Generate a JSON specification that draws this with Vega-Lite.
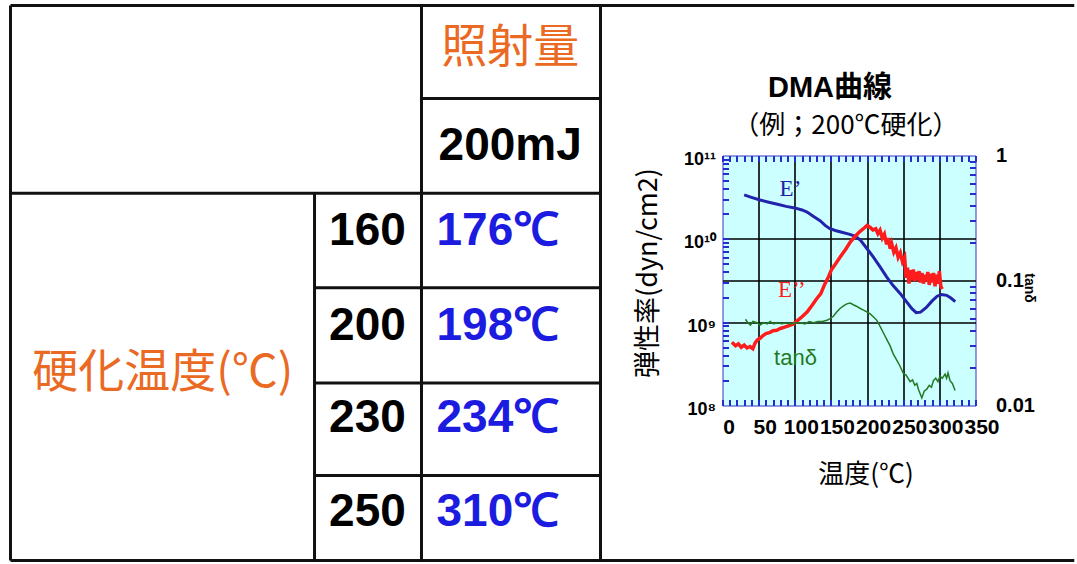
{
  "$schema": "https://vega.github.io/schema/vega-lite/v6.json",
  "background": "white",
  "padding": {"left": 8.5, "top": 3.5, "right": 0, "bottom": 0},
  "bounds": "flush",
  "spacing": 122,
  "config": {"view": {"stroke": null}, "font": "Liberation Sans"},
  "datasets": {
    "tableLines": [
      {"x1": 0, "x2": 180.3, "y1": 0, "y2": 0},
      {"x1": 0, "x2": 180.3, "y1": 6, "y2": 6},
      {"x1": 0, "x2": 0, "y1": 0, "y2": 6},
      {"x1": 100, "x2": 100, "y1": 0, "y2": 6},
      {"x1": 69.66, "x2": 69.66, "y1": 0, "y2": 6},
      {"x1": 51.53, "x2": 51.53, "y1": 2.03, "y2": 6},
      {"x1": 69.66, "x2": 100, "y1": 1.005, "y2": 1.005},
      {"x1": 0, "x2": 100, "y1": 2.03, "y2": 2.03},
      {"x1": 51.53, "x2": 100, "y1": 3.05, "y2": 3.05},
      {"x1": 51.53, "x2": 100, "y1": 4.08, "y2": 4.08},
      {"x1": 51.53, "x2": 100, "y1": 5.08, "y2": 5.08}
    ],
    "headers": [
      {"t": "照射量", "col": 84.7, "row": 0.46},
      {"t": "硬化温度(℃)", "col": 25.8, "row": 3.97}
    ],
    "settings": [
      {"t": "200mJ", "col": 84.7, "row": 1.52},
      {"t": "160", "col": 60.5, "row": 2.44},
      {"t": "200", "col": 60.5, "row": 3.46},
      {"t": "230", "col": 60.5, "row": 4.46},
      {"t": "250", "col": 60.5, "row": 5.48}
    ],
    "results": [
      {"t": "176℃", "col": 72.2, "row": 2.44},
      {"t": "198℃", "col": 72.2, "row": 3.46},
      {"t": "234℃", "col": 72.2, "row": 4.46},
      {"t": "310℃", "col": 72.2, "row": 5.48}
    ],
    "ePrime": [
      {"T": 30, "v": 3.37e10}, {"T": 40, "v": 3.15e10}, {"T": 52, "v": 2.92e10},
      {"T": 64, "v": 2.75e10}, {"T": 76, "v": 2.6e10}, {"T": 88, "v": 2.45e10},
      {"T": 100, "v": 2.35e10}, {"T": 110, "v": 2.22e10}, {"T": 117, "v": 2.1e10},
      {"T": 126, "v": 1.85e10}, {"T": 135, "v": 1.65e10}, {"T": 142, "v": 1.45e10},
      {"T": 148, "v": 1.33e10}, {"T": 156, "v": 1.26e10}, {"T": 165, "v": 1.2e10},
      {"T": 175, "v": 1.14e10}, {"T": 184, "v": 1.07e10}, {"T": 191, "v": 9.6e9},
      {"T": 200, "v": 7.6e9}, {"T": 209, "v": 6.0e9}, {"T": 218, "v": 4.6e9},
      {"T": 227, "v": 3.5e9}, {"T": 236, "v": 2.75e9}, {"T": 246, "v": 2.2e9},
      {"T": 255, "v": 1.74e9}, {"T": 262, "v": 1.45e9}, {"T": 268, "v": 1.3e9},
      {"T": 274, "v": 1.32e9}, {"T": 282, "v": 1.5e9}, {"T": 290, "v": 1.8e9},
      {"T": 297, "v": 2.05e9}, {"T": 303, "v": 2.15e9}, {"T": 310, "v": 2.1e9},
      {"T": 316, "v": 1.95e9}, {"T": 322, "v": 1.76e9}
    ],
    "eDouble": [
      {"T": 13, "v": 5.75e8}, {"T": 18, "v": 5.2e8}, {"T": 22, "v": 5.5e8},
      {"T": 26, "v": 5.0e8}, {"T": 30, "v": 5.3e8}, {"T": 34, "v": 4.9e8},
      {"T": 38, "v": 5.1e8}, {"T": 42, "v": 4.8e8}, {"T": 45, "v": 5.6e8},
      {"T": 48, "v": 6.1e8}, {"T": 52, "v": 6.4e8}, {"T": 56, "v": 6.9e8},
      {"T": 60, "v": 7.3e8}, {"T": 65, "v": 7.5e8}, {"T": 70, "v": 7.9e8},
      {"T": 75, "v": 8.0e8}, {"T": 80, "v": 8.4e8}, {"T": 86, "v": 8.7e8},
      {"T": 92, "v": 9.1e8}, {"T": 98, "v": 9.5e8}, {"T": 104, "v": 1.05e9},
      {"T": 110, "v": 1.16e9}, {"T": 117, "v": 1.32e9}, {"T": 124, "v": 1.6e9},
      {"T": 130, "v": 1.9e9}, {"T": 136, "v": 2.2e9}, {"T": 141, "v": 2.8e9},
      {"T": 146, "v": 3.4e9}, {"T": 151, "v": 4.3e9}, {"T": 157, "v": 5.1e9},
      {"T": 163, "v": 6.1e9}, {"T": 170, "v": 7.4e9}, {"T": 177, "v": 9.2e9},
      {"T": 184, "v": 1.08e10}, {"T": 190, "v": 1.22e10}, {"T": 196, "v": 1.35e10},
      {"T": 200, "v": 1.45e10}, {"T": 204, "v": 1.38e10}, {"T": 208, "v": 1.28e10},
      {"T": 212, "v": 1.32e10}, {"T": 215, "v": 1.15e10}, {"T": 218, "v": 1.27e10},
      {"T": 221, "v": 1.02e10}, {"T": 224, "v": 1.14e10}, {"T": 227, "v": 8.6e9},
      {"T": 229, "v": 1.02e10}, {"T": 232, "v": 7.6e9}, {"T": 234, "v": 8.8e9},
      {"T": 237, "v": 6.9e9}, {"T": 240, "v": 7.8e9}, {"T": 243, "v": 6.0e9},
      {"T": 246, "v": 6.8e9}, {"T": 249, "v": 5.3e9}, {"T": 252, "v": 6.0e9},
      {"T": 254, "v": 3.4e9}, {"T": 256, "v": 4.5e9}, {"T": 258, "v": 2.9e9},
      {"T": 260, "v": 4.2e9}, {"T": 262, "v": 3.2e9}, {"T": 264, "v": 4.3e9},
      {"T": 266, "v": 3.1e9}, {"T": 268, "v": 4.0e9}, {"T": 270, "v": 3.2e9},
      {"T": 272, "v": 4.1e9}, {"T": 274, "v": 3.0e9}, {"T": 276, "v": 3.9e9},
      {"T": 278, "v": 2.9e9}, {"T": 280, "v": 3.7e9}, {"T": 282, "v": 3.1e9},
      {"T": 284, "v": 4.0e9}, {"T": 286, "v": 2.8e9}, {"T": 288, "v": 3.8e9},
      {"T": 290, "v": 3.0e9}, {"T": 292, "v": 3.9e9}, {"T": 294, "v": 2.7e9},
      {"T": 296, "v": 3.7e9}, {"T": 298, "v": 2.9e9}, {"T": 300, "v": 4.1e9},
      {"T": 302, "v": 2.7e9}, {"T": 304, "v": 2.5e9}
    ],
    "tanDelta": [
      {"T": 31.8, "tan": 0.049}, {"T": 35, "tan": 0.046}, {"T": 38.7, "tan": 0.044},
      {"T": 42, "tan": 0.047}, {"T": 47.9, "tan": 0.046}, {"T": 52, "tan": 0.044},
      {"T": 57, "tan": 0.046}, {"T": 62, "tan": 0.045}, {"T": 66, "tan": 0.047},
      {"T": 70.9, "tan": 0.045}, {"T": 76, "tan": 0.046}, {"T": 82, "tan": 0.045},
      {"T": 89, "tan": 0.046}, {"T": 95, "tan": 0.045}, {"T": 101, "tan": 0.046},
      {"T": 107.7, "tan": 0.046}, {"T": 114, "tan": 0.045}, {"T": 120, "tan": 0.047},
      {"T": 126, "tan": 0.046}, {"T": 132, "tan": 0.047}, {"T": 138, "tan": 0.047},
      {"T": 144.5, "tan": 0.048}, {"T": 150, "tan": 0.05}, {"T": 153.7, "tan": 0.052},
      {"T": 158, "tan": 0.056}, {"T": 162.9, "tan": 0.06}, {"T": 168, "tan": 0.063},
      {"T": 172, "tan": 0.065}, {"T": 176.7, "tan": 0.066}, {"T": 181, "tan": 0.064},
      {"T": 185.9, "tan": 0.062}, {"T": 190, "tan": 0.06}, {"T": 195.1, "tan": 0.058},
      {"T": 200, "tan": 0.056}, {"T": 204.3, "tan": 0.054}, {"T": 209, "tan": 0.051},
      {"T": 213.5, "tan": 0.048}, {"T": 218, "tan": 0.043}, {"T": 222.7, "tan": 0.038},
      {"T": 227, "tan": 0.034}, {"T": 231.9, "tan": 0.03}, {"T": 236, "tan": 0.026},
      {"T": 241.2, "tan": 0.023}, {"T": 245, "tan": 0.021}, {"T": 250.3, "tan": 0.018},
      {"T": 254, "tan": 0.0175}, {"T": 259.6, "tan": 0.0155}, {"T": 263, "tan": 0.016},
      {"T": 266, "tan": 0.0145}, {"T": 268.8, "tan": 0.015}, {"T": 271, "tan": 0.0135},
      {"T": 275.7, "tan": 0.0115}, {"T": 279, "tan": 0.013}, {"T": 282.6, "tan": 0.0135},
      {"T": 286, "tan": 0.0145}, {"T": 289, "tan": 0.014}, {"T": 291.8, "tan": 0.0158},
      {"T": 295, "tan": 0.0165}, {"T": 298, "tan": 0.0155}, {"T": 301, "tan": 0.0172},
      {"T": 304, "tan": 0.0165}, {"T": 307.9, "tan": 0.0178}, {"T": 310, "tan": 0.0165},
      {"T": 312, "tan": 0.0182}, {"T": 314.8, "tan": 0.0158}, {"T": 318, "tan": 0.015},
      {"T": 321.7, "tan": 0.0132}
    ],
    "modulusLabels": [
      {"name": "E’", "T": 94, "v": 4.0e10},
      {"name": "E’’", "T": 96, "v": 2.4e9}
    ],
    "tanLabel": [{"name": "tanδ", "T": 101, "tan": 0.0238}],
    "heading": [{"t": "DMA曲線", "px": 0.425, "py": 0.547}],
    "subheading": [{"t": "（例；200℃硬化）", "px": 0.488, "py": 0.8}]
  },
  "hconcat": [
    {
      "width": 590,
      "height": 555,
      "view": {"stroke": null},
      "layer": [
        {
          "data": {"name": "tableLines"},
          "mark": {"type": "rule", "color": "#111111", "strokeWidth": 3},
          "encoding": {
            "x": {"field": "x1", "type": "quantitative", "scale": {"domain": [0, 100], "nice": false, "zero": false}, "axis": null},
            "x2": {"field": "x2"},
            "y": {"field": "y1", "type": "quantitative", "scale": {"domain": [0, 6], "nice": false, "zero": false, "reverse": true}, "axis": null},
            "y2": {"field": "y2"}
          }
        },
        {
          "data": {"name": "headers"},
          "mark": {"type": "text", "font": "Noto Sans CJK JP", "fontSize": 46, "color": "#ea6a24", "align": "center", "baseline": "middle"},
          "encoding": {
            "x": {"field": "col", "type": "quantitative", "scale": {"domain": [0, 100], "nice": false, "zero": false}, "axis": null},
            "y": {"field": "row", "type": "quantitative", "scale": {"domain": [0, 6], "nice": false, "zero": false, "reverse": true}, "axis": null},
            "text": {"field": "t"}
          }
        },
        {
          "data": {"name": "settings"},
          "mark": {"type": "text", "font": "Liberation Sans", "fontWeight": "bold", "fontSize": 46, "color": "#000000", "align": "center", "baseline": "middle"},
          "encoding": {
            "x": {"field": "col", "type": "quantitative", "scale": {"domain": [0, 100], "nice": false, "zero": false}, "axis": null},
            "y": {"field": "row", "type": "quantitative", "scale": {"domain": [0, 6], "nice": false, "zero": false, "reverse": true}, "axis": null},
            "text": {"field": "t"}
          }
        },
        {
          "data": {"name": "results"},
          "mark": {"type": "text", "font": "Liberation Sans", "fontWeight": "bold", "fontSize": 46, "color": "#1c1ce0", "align": "left", "baseline": "middle"},
          "encoding": {
            "x": {"field": "col", "type": "quantitative", "scale": {"domain": [0, 100], "nice": false, "zero": false}, "axis": null},
            "y": {"field": "row", "type": "quantitative", "scale": {"domain": [0, 6], "nice": false, "zero": false, "reverse": true}, "axis": null},
            "text": {"field": "t"}
          }
        }
      ]
    },
    {
      "bounds": "flush",
      "spacing": 0,
      "vconcat": [
        {
          "width": 253,
          "height": 150,
          "view": {"stroke": null},
          "layer": [
            {
              "data": {"name": "heading"},
              "mark": {"type": "text", "font": "Liberation Sans, Noto Sans CJK JP", "fontWeight": "bold", "fontSize": 29, "color": "#000000", "align": "center", "baseline": "middle"},
              "encoding": {
                "x": {"field": "px", "type": "quantitative", "scale": {"domain": [0, 1], "nice": false, "zero": false}, "axis": null},
                "y": {"field": "py", "type": "quantitative", "scale": {"domain": [0, 1], "nice": false, "zero": false, "reverse": true}, "axis": null},
                "text": {"field": "t"}
              }
            },
            {
              "data": {"name": "subheading"},
              "mark": {"type": "text", "font": "Noto Sans CJK JP", "fontSize": 26, "color": "#000000", "align": "center", "baseline": "middle"},
              "encoding": {
                "x": {"field": "px", "type": "quantitative", "scale": {"domain": [0, 1], "nice": false, "zero": false}, "axis": null},
                "y": {"field": "py", "type": "quantitative", "scale": {"domain": [0, 1], "nice": false, "zero": false, "reverse": true}, "axis": null},
                "text": {"field": "t"}
              }
            }
          ]
        },
        {
          "width": 253,
          "height": 250,
          "view": {"fill": "#ccffff", "stroke": "#3434c4", "strokeWidth": 1},
          "resolve": {
            "scale": {"x": "independent", "y": "independent"},
            "axis": {"x": "independent", "y": "independent"}
          },
          "layer": [
            {
              "data": {"name": "ePrime"},
              "mark": {"type": "line", "color": "#2222aa", "strokeWidth": 3},
              "encoding": {
                "x": {
                  "field": "T", "type": "quantitative",
                  "scale": {"domain": [0, 350], "nice": false, "zero": false},
                  "axis": {
                    "orient": "bottom",
                    "values": [0, 50, 100, 150, 200, 250, 300, 350],
                    "labelFont": "Liberation Sans", "labelFontWeight": "bold", "labelFontSize": 21,
                    "labelColor": "#000000", "labelPadding": 11, "labelOffset": 6,
                    "labelFlush": false, "labelOverlap": false,
                    "ticks": false, "domain": false,
                    "grid": true,
                    "gridColor": {"condition": {"test": "datum.value > 0 && datum.value < 350", "value": "#000000"}, "value": "transparent"},
                    "gridWidth": 1.6,
                    "title": "温度(℃)",
                    "titleFont": "Noto Sans CJK JP", "titleFontSize": 26, "titleFontWeight": "normal",
                    "titleColor": "#000000", "titleX": 143, "titleY": 69, "titleBaseline": "middle"
                  }
                },
                "y": {
                  "field": "v", "type": "quantitative",
                  "scale": {"type": "log", "domain": [1e8, 1e11], "nice": false},
                  "axis": {
                    "orient": "left",
                    "values": [1e8, 1e9, 1e10, 1e11],
                    "labelExpr": "datum.value > 5e10 ? '10¹¹' : datum.value > 5e9 ? '10¹⁰' : datum.value > 5e8 ? '10⁹' : '10⁸'",
                    "labelFont": "Liberation Sans", "labelFontWeight": "bold", "labelFontSize": 18,
                    "labelColor": "#000000", "labelPadding": 7, "labelOffset": 4,
                    "labelOverlap": false,
                    "ticks": false, "domain": false,
                    "grid": true,
                    "gridColor": {"condition": {"test": "datum.value > 2e8 && datum.value < 5e10", "value": "#000000"}, "value": "transparent"},
                    "gridWidth": 1.6,
                    "title": "弾性率(dyn/cm2)",
                    "titleFont": "Noto Sans CJK JP", "titleFontSize": 27, "titleFontWeight": "normal",
                    "titleColor": "#000000", "titleX": -74, "titleY": 117, "titleBaseline": "middle"
                  }
                }
              }
            },
            {
              "data": {"name": "eDouble"},
              "mark": {"type": "line", "color": "#ff1c1c", "strokeWidth": 3.5},
              "encoding": {
                "x": {
                  "field": "T", "type": "quantitative",
                  "scale": {"domain": [0, 350], "nice": false, "zero": false},
                  "axis": {
                    "orient": "top",
                    "values": [0, 10, 20, 30, 40, 50, 60, 70, 80, 90, 100, 110, 120, 130, 140, 150, 160, 170, 180, 190, 200, 210, 220, 230, 240, 250, 260, 270, 280, 290, 300, 310, 320, 330, 340, 350],
                    "labels": false, "domain": false, "grid": false,
                    "ticks": true, "tickSize": -6, "tickWidth": 2, "tickColor": "#2a2ad0",
                    "title": null
                  }
                },
                "y": {
                  "field": "v", "type": "quantitative",
                  "scale": {"type": "log", "domain": [1e8, 1e11], "nice": false},
                  "axis": {
                    "orient": "left",
                    "values": [2e8, 3e8, 4e8, 5e8, 6e8, 7e8, 8e8, 9e8, 1e9, 2e9, 3e9, 4e9, 5e9, 6e9, 7e9, 8e9, 9e9, 1e10, 2e10, 3e10, 4e10, 5e10, 6e10, 7e10, 8e10, 9e10],
                    "labels": false, "domain": false, "grid": false,
                    "ticks": true, "tickSize": -6, "tickWidth": 2, "tickColor": "#2a2ad0",
                    "title": null
                  }
                }
              }
            },
            {
              "data": {"name": "tanDelta"},
              "mark": {"type": "line", "color": "#237a23", "strokeWidth": 1.5},
              "encoding": {
                "x": {
                  "field": "T", "type": "quantitative",
                  "scale": {"domain": [0, 350], "nice": false, "zero": false},
                  "axis": {
                    "orient": "bottom",
                    "values": [0, 10, 20, 30, 40, 50, 60, 70, 80, 90, 100, 110, 120, 130, 140, 150, 160, 170, 180, 190, 200, 210, 220, 230, 240, 250, 260, 270, 280, 290, 300, 310, 320, 330, 340, 350],
                    "labels": false, "domain": false, "grid": false,
                    "ticks": true, "tickSize": -6, "tickWidth": 2, "tickColor": "#2a2ad0",
                    "title": null
                  }
                },
                "y": {
                  "field": "tan", "type": "quantitative",
                  "scale": {"type": "log", "domain": [0.01, 1], "nice": false},
                  "axis": {
                    "orient": "right",
                    "values": [0.01, 0.1, 1],
                    "labelExpr": "datum.value > 0.5 ? '1' : datum.value > 0.05 ? '0.1' : '0.01'",
                    "labelFont": "Liberation Sans", "labelFontWeight": "bold", "labelFontSize": 20,
                    "labelColor": "#000000", "labelPadding": 20, "labelAlign": "left",
                    "labelOverlap": false,
                    "ticks": false, "domain": false,
                    "grid": true,
                    "gridColor": {"condition": {"test": "datum.value > 0.05 && datum.value < 0.5", "value": "#000000"}, "value": "transparent"},
                    "gridWidth": 1.6,
                    "title": "tanδ",
                    "titleFont": "Liberation Sans", "titleFontSize": 14, "titleFontWeight": "bold",
                    "titleColor": "#000000", "titleX": 53, "titleY": 132, "titleBaseline": "middle"
                  }
                }
              }
            },
            {
              "data": {"name": "modulusLabels"},
              "mark": {"type": "text", "font": "Liberation Serif", "fontSize": 23, "align": "center", "baseline": "middle"},
              "encoding": {
                "x": {"field": "T", "type": "quantitative", "scale": {"domain": [0, 350], "nice": false, "zero": false}, "axis": null},
                "y": {"field": "v", "type": "quantitative", "scale": {"type": "log", "domain": [1e8, 1e11], "nice": false}, "axis": null},
                "text": {"field": "name"},
                "color": {"field": "name", "type": "nominal", "scale": {"domain": ["E’", "E’’"], "range": ["#2222aa", "#ff1c1c"]}, "legend": null}
              }
            },
            {
              "data": {"name": "tanLabel"},
              "mark": {"type": "text", "font": "Liberation Sans", "fontSize": 22, "color": "#237a23", "align": "center", "baseline": "middle"},
              "encoding": {
                "x": {"field": "T", "type": "quantitative", "scale": {"domain": [0, 350], "nice": false, "zero": false}, "axis": null},
                "y": {
                  "field": "tan", "type": "quantitative",
                  "scale": {"type": "log", "domain": [0.01, 1], "nice": false},
                  "axis": {
                    "orient": "right",
                    "values": [0.02, 0.03, 0.04, 0.05, 0.06, 0.07, 0.08, 0.09, 0.2, 0.3, 0.4, 0.5, 0.6, 0.7, 0.8, 0.9],
                    "labels": false, "domain": false, "grid": false,
                    "ticks": true, "tickSize": -6, "tickWidth": 2, "tickColor": "#2a2ad0",
                    "title": null
                  }
                },
                "text": {"field": "name"}
              }
            }
          ]
        }
      ]
    }
  ]
}
